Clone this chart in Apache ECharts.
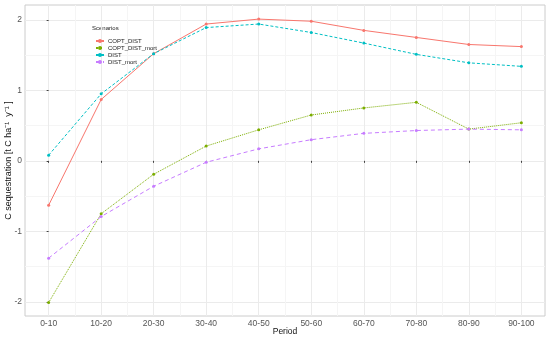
<!DOCTYPE html>
<html>
<head>
<meta charset="utf-8">
<script src="https://cdn.jsdelivr.net/npm/echarts@6/dist/echarts.min.js"></script>
<style>html,body{margin:0;padding:0;background:#fff}#c{width:550px;height:337px}</style>
</head>
<body>
<div id="c"></div>
<script>
const categories = ['0-10','10-20','20-30','30-40','40-50','50-60','60-70','70-80','80-90','90-100'];
const seriesNames = ['COPT_DIST','COPT_DIST_mort','DIST','DIST_mort'];
const coptDist     = [-0.63, 0.87, 1.52, 1.94, 2.01, 1.98, 1.85, 1.75, 1.65, 1.62];
const coptDistMort = [-2.01, -0.75, -0.19, 0.21, 0.44, 0.65, 0.75, 0.83, 0.45, 0.54];
const dist         = [0.08, 0.95, 1.52, 1.89, 1.94, 1.82, 1.67, 1.51, 1.39, 1.34];
const distMort     = [-1.38, -0.79, -0.36, -0.02, 0.17, 0.30, 0.39, 0.43, 0.45, 0.44];
const yTicks = [-2, -1, 0, 1, 2];
const yMinor = [-1.5, -0.5, 0.5, 1.5];

const colors = ['#F8766D', '#7CAE00', '#00BFC4', '#C77CFF'];
const lineTypes = ['solid', 'dotted', [3, 2], [4, 3]];
const values = [coptDist, coptDistMort, dist, distMort];
const xIdx = categories.map((c, i) => i);
const xMinor = categories.slice(1).map((c, i) => i + 0.5);

const font = 'Liberation Sans, Arial, sans-serif';
const chart = echarts.init(document.getElementById('c'), null, {renderer: 'canvas'});

chart.setOption({
  animation: false,
  backgroundColor: '#fff',
  textStyle: {fontFamily: font},
  grid: {left: 25, right: 5, top: 5, bottom: 21, show: true, borderColor: '#cccccc', borderWidth: 1, containLabel: false, outerBoundsMode: 'none'},
  graphic: [{type: 'text', left: 92, top: 25, style: {text: 'Scenarios', fontSize: 6, fontFamily: font, fill: '#222'}}],
  legend: {
    orient: 'vertical', left: 90, top: 32.5, itemWidth: 8, itemHeight: 5, itemGap: 0,
    textStyle: {fontSize: 6, lineHeight: 7, color: '#222', padding: [0, 0, 0, -1]},
    data: seriesNames
  },
  xAxis: [{
    type: 'value', min: -0.45, max: 9.45,
    name: 'Period', nameLocation: 'middle', nameGap: 11, nameMoveOverlap: false,
    nameTextStyle: {fontSize: 8.5, color: '#111'},
    axisLine: {show: false},
    axisTick: {show: true, length: 2, lineStyle: {color: '#444'}, customValues: xIdx},
    axisLabel: {customValues: xIdx, formatter: v => categories[Math.round(v)], fontSize: 8.5, color: '#555', margin: 3},
    splitLine: {show: true, lineStyle: {color: '#ebebeb', width: 1}}
  }, {
    type: 'value', min: -0.45, max: 9.45, position: 'top', show: true,
    axisLine: {show: false}, axisLabel: {show: false},
    axisTick: {show: false, customValues: xMinor},
    splitLine: {show: true, lineStyle: {color: '#f5f5f5', width: 1}}
  }],
  yAxis: [{
    type: 'value', min: -2.2, max: 2.21,
    name: 'C sequestration [t C ha\u207B\u00B9  y\u207B\u00B9 ]', nameLocation: 'middle', nameGap: 12, nameRotate: 90, nameMoveOverlap: false,
    nameTextStyle: {fontSize: 9, color: '#111'},
    axisLine: {show: false},
    axisTick: {show: true, length: 2, lineStyle: {color: '#444'}, customValues: yTicks},
    axisLabel: {customValues: yTicks, fontSize: 8.5, color: '#555', margin: 3},
    splitLine: {show: true, lineStyle: {color: '#ebebeb', width: 1}}
  }, {
    type: 'value', min: -2.2, max: 2.21, position: 'right',
    axisLine: {show: false}, axisLabel: {show: false},
    axisTick: {show: false, customValues: yMinor},
    splitLine: {show: true, lineStyle: {color: '#f5f5f5', width: 1}}
  }],
  series: seriesNames.map((n, k) => ({
    name: n, type: 'line', xAxisIndex: 0, yAxisIndex: 0,
    data: values[k].map((v, i) => [xIdx[i], v]),
    symbol: 'circle', symbolSize: 3, showSymbol: true,
    itemStyle: {color: colors[k]},
    lineStyle: {color: colors[k], width: 1, type: lineTypes[k]},
    z: 2 + k
  }))
});
</script>
</body>
</html>
